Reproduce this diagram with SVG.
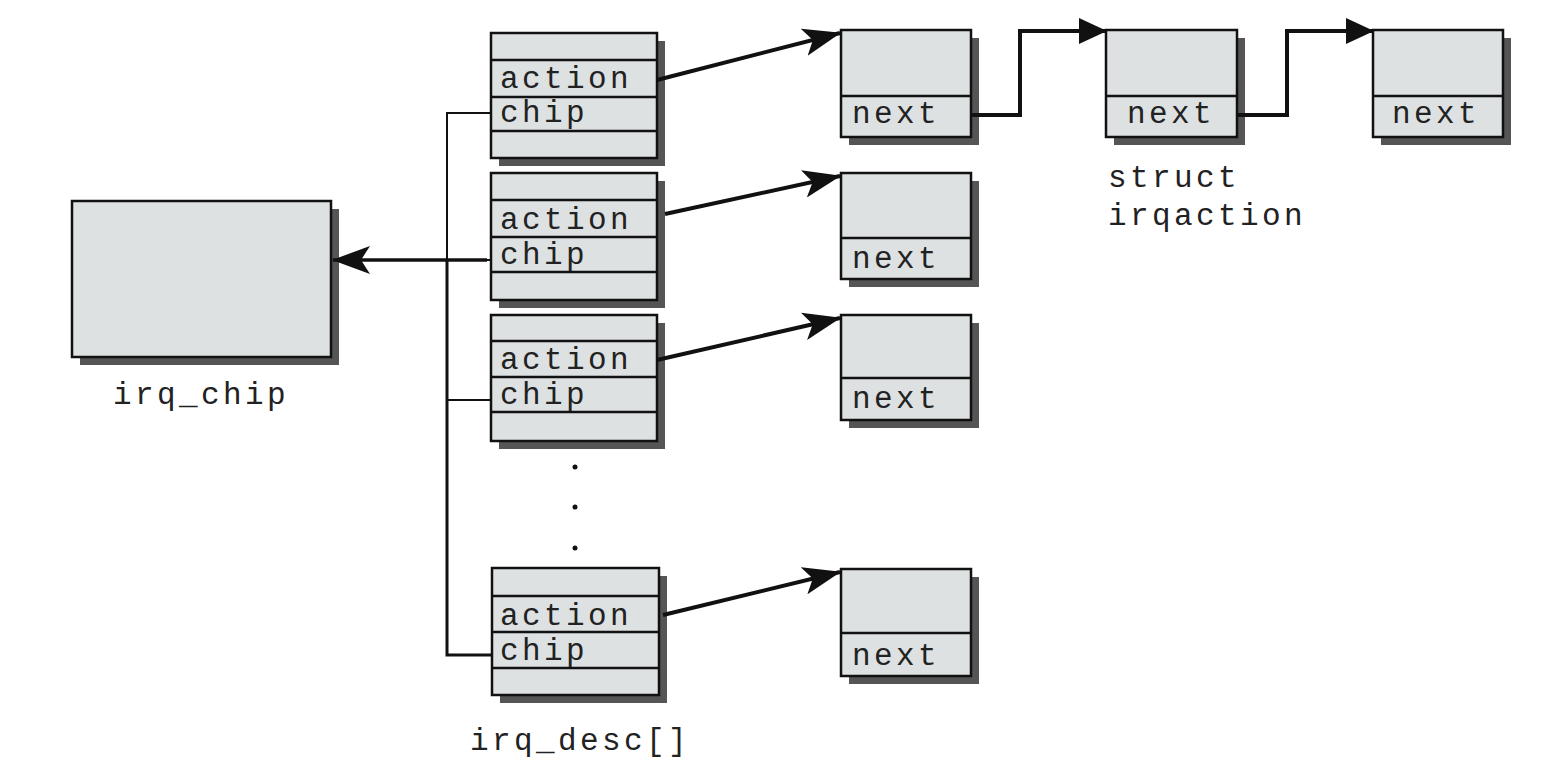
<svg xmlns="http://www.w3.org/2000/svg" width="1568" height="776" viewBox="0 0 1568 776">
<style>
.box{fill:#dde1e1;stroke:#111;stroke-width:2.5}
.sh{fill:#555}
.ln{stroke:#111;stroke-width:2.5;fill:none}
.t{font-family:"Liberation Mono","DejaVu Sans Mono",monospace;font-size:31px;letter-spacing:3.4px;fill:#222}
.c{stroke:#111;fill:none}
</style>
<defs>
<marker id="ah" viewBox="0 0 38 28" refX="37" refY="14" markerWidth="38" markerHeight="28" markerUnits="userSpaceOnUse" orient="auto">
<path d="M0,0 L38,14 L0,28 L9,14 Z" fill="#111"/>
</marker>
<marker id="ah2" viewBox="0 0 28 26" refX="27" refY="13" markerWidth="28" markerHeight="26" markerUnits="userSpaceOnUse" orient="auto">
<path d="M0,0 L28,13 L0,26 Z" fill="#111"/>
</marker>
</defs>
<rect width="1568" height="776" fill="#fff"/>

<g id="irq_chip">
<rect class="sh" x="80" y="209" width="259" height="156"/>
<rect class="box" x="72" y="201" width="259" height="156"/>
<text class="t" x="113" y="404">irq_chip</text>
</g>

<g id="desc0">
<rect class="sh" x="499" y="41" width="166" height="125"/>
<rect class="box" x="491" y="33" width="166" height="125"/>
<path class="ln" d="M491,60H657M491,97H657M491,131H657"/>
<text class="t" x="500" y="88">action</text>
<text class="t" x="500" y="122">chip</text>
</g>
<g id="desc1">
<rect class="sh" x="499" y="181" width="166" height="127"/>
<rect class="box" x="491" y="173" width="166" height="127"/>
<path class="ln" d="M491,200H657M491,237H657M491,272H657"/>
<text class="t" x="500" y="229">action</text>
<text class="t" x="500" y="264">chip</text>
</g>
<g id="desc2">
<rect class="sh" x="499" y="323" width="166" height="126"/>
<rect class="box" x="491" y="315" width="166" height="126"/>
<path class="ln" d="M491,341H657M491,377H657M491,412H657"/>
<text class="t" x="500" y="369">action</text>
<text class="t" x="500" y="404">chip</text>
</g>
<g id="desc3">
<rect class="sh" x="500" y="576" width="167" height="127"/>
<rect class="box" x="492" y="568" width="167" height="127"/>
<path class="ln" d="M492,596H659M492,632H659M492,668H659"/>
<text class="t" x="500" y="625">action</text>
<text class="t" x="500" y="660">chip</text>
<text class="t" x="470" y="750">irq_desc[]</text>
</g>
<g id="dots" fill="#111">
<circle cx="575" cy="467" r="2.5"/>
<circle cx="575" cy="507" r="2.5"/>
<circle cx="575" cy="548" r="2.5"/>
</g>

<g id="act0_0">
<rect class="sh" x="849" y="38" width="130" height="107"/>
<rect class="box" x="841" y="30" width="130" height="107"/>
<path class="ln" d="M841,96H971"/>
<text class="t" x="852" y="123">next</text>
</g>
<g id="act0_1">
<rect class="sh" x="1114" y="38" width="131" height="107"/>
<rect class="box" x="1106" y="30" width="131" height="107"/>
<path class="ln" d="M1106,96H1237"/>
<text class="t" x="1127" y="123">next</text>
<text class="t" x="1108" y="187">struct</text>
<text class="t" x="1108" y="225">irqaction</text>
</g>
<g id="act0_2">
<rect class="sh" x="1381" y="38" width="130" height="107"/>
<rect class="box" x="1373" y="30" width="130" height="107"/>
<path class="ln" d="M1373,96H1503"/>
<text class="t" x="1392" y="123">next</text>
</g>
<g id="act1">
<rect class="sh" x="849" y="181" width="130" height="106"/>
<rect class="box" x="841" y="173" width="130" height="106"/>
<path class="ln" d="M841,238H971"/>
<text class="t" x="852" y="268">next</text>
</g>
<g id="act2">
<rect class="sh" x="849" y="323" width="130" height="105"/>
<rect class="box" x="841" y="315" width="130" height="105"/>
<path class="ln" d="M841,378H971"/>
<text class="t" x="852" y="408">next</text>
</g>
<g id="act3">
<rect class="sh" x="849" y="577" width="130" height="107"/>
<rect class="box" x="841" y="569" width="130" height="107"/>
<path class="ln" d="M841,633H971"/>
<text class="t" x="852" y="665">next</text>
</g>

<g id="connectors">
<path class="c" stroke-width="2" d="M491,113H447V260M447,260H491M447,400H491"/>
<path class="c" stroke-width="3" d="M447,260V655H491"/>
<path class="c" stroke-width="3.5" d="M487,260H333" marker-end="url(#ah)"/>
<path class="c" stroke-width="4" d="M657,80L840,33" marker-end="url(#ah)"/>
<path class="c" stroke-width="4" d="M665,214L840,176" marker-end="url(#ah)"/>
<path class="c" stroke-width="4" d="M657,360L840,318" marker-end="url(#ah)"/>
<path class="c" stroke-width="4" d="M663,615L840,572" marker-end="url(#ah)"/>
<path class="c" stroke-width="4" d="M971,115H1020V31H1106" marker-end="url(#ah2)"/>
<path class="c" stroke-width="4" d="M1237,115H1287V31H1373" marker-end="url(#ah2)"/>
</g>
</svg>
